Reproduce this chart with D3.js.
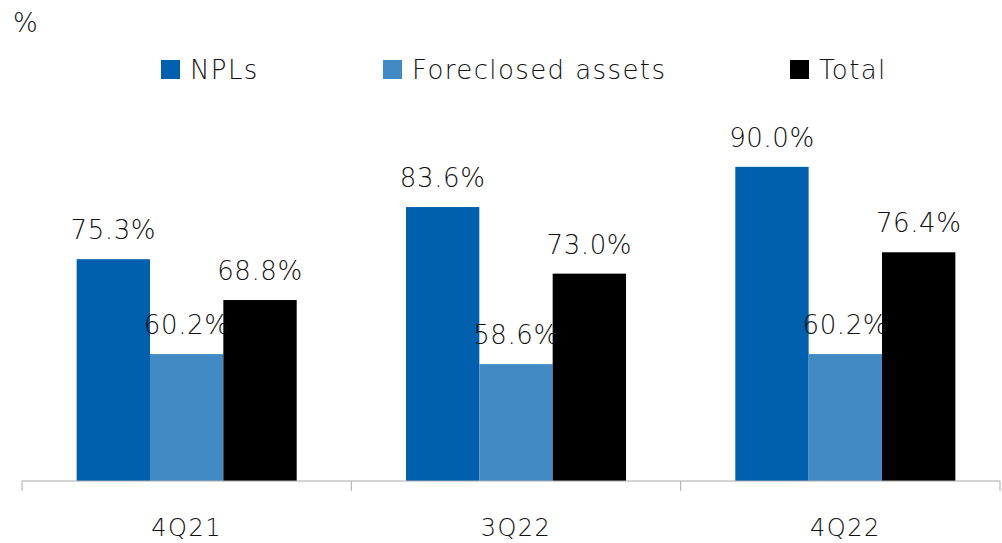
<!DOCTYPE html>
<html><head><meta charset="utf-8">
<script src="https://cdn.jsdelivr.net/npm/d3@7/dist/d3.min.js"></script>
<style>body{margin:0;background:#fff}svg{display:block}text{font-family:"DejaVu Sans",sans-serif;font-weight:200;fill:#111}</style>
</head><body><svg id="c" width="1002" height="543"></svg>
<script>
const categories = ["4Q21","3Q22","4Q22"];
const seriesNames = ["NPLs","Foreclosed assets","Total"];
const npls = [75.3, 83.6, 90.0];
const foreclosed = [60.2, 58.6, 60.2];
const total = [68.8, 73.0, 76.4];
const colors = ["#0060AE","#428AC4","#000000"];
const yDomain = [40, 100];

const svg = d3.select("#c");
const x0 = d3.scaleBand().domain(categories).range([22, 1010]).paddingInner(0).paddingOuter(0);
const x1 = d3.scaleBand().domain(seriesNames).range([0, x0.bandwidth()]).paddingOuter(0.745).paddingInner(0);
const y = d3.scaleLinear().domain(yDomain).range([481, 104]);
const series = [npls, foreclosed, total];

const g = svg.append("g");
categories.forEach((c, i) => {
  series.forEach((s, j) => {
    const bx = x0(c) + x1(seriesNames[j]);
    g.append("rect").attr("x", bx).attr("y", y(s[i])).attr("width", x1.bandwidth())
      .attr("height", y(yDomain[0]) - y(s[i])).attr("fill", colors[j]);
  });
});
categories.forEach((c, i) => {
  series.forEach((s, j) => {
    const bx = x0(c) + x1(seriesNames[j]) + x1.bandwidth() / 2;
    g.append("text").attr("x", bx).attr("y", y(s[i]) - 20).attr("text-anchor", "middle")
      .attr("font-size", 26).attr("letter-spacing", 0.6).text(s[i].toFixed(1) + "%");
  });
});

// axis
const ax = svg.append("g").attr("transform", "translate(0,481)");
ax.append("line").attr("x1", 22).attr("x2", 1000).attr("stroke", "#aaa").attr("stroke-width", 1);
const tickXs = categories.map(c => x0(c)).concat([1000]);
tickXs.forEach(t => ax.append("line").attr("x1", t).attr("x2", t).attr("y1", 0).attr("y2", 10).attr("stroke", "#aaa"));
categories.forEach(c => ax.append("text").attr("x", x0(c) + x0.bandwidth() / 2).attr("y", 55)
  .attr("text-anchor", "middle").attr("font-size", 24).attr("letter-spacing", 1.5).attr("fill", "#333").text(c));

// unit
svg.append("text").attr("x", 13).attr("y", 32).attr("font-size", 26).text("%");

// legend
const legX = [161, 383, 790];
seriesNames.forEach((n, j) => {
  svg.append("rect").attr("x", legX[j]).attr("y", 60).attr("width", 19).attr("height", 19).attr("fill", colors[j]);
  svg.append("text").attr("x", legX[j] + 29).attr("y", 79).attr("font-size", 26).attr("letter-spacing", 1.4).text(n);
});
</script></body></html>
